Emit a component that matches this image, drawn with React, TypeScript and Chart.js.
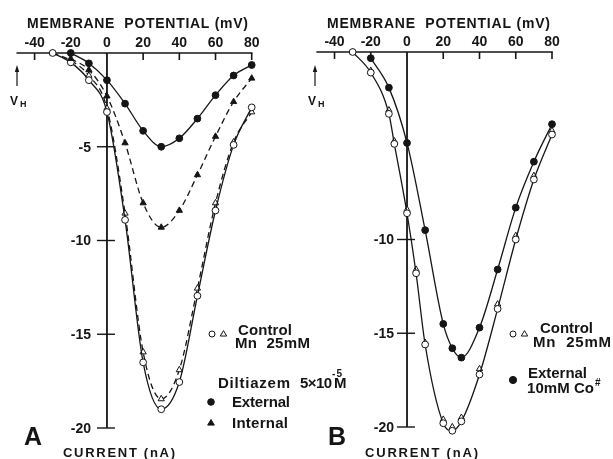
import { useEffect, useRef } from "react";
import { Chart, registerables } from "chart.js";
Chart.register(...registerables);

const W = 613;
const H = 459;
const FONT = "'Liberation Sans', Arial, Helvetica, sans-serif";
const INK = "#151515";

// ---- axis ticks ----
const xTickValues = [-40, -20, 0, 20, 40, 60, 80];
const xTickLabels = ["-40", "-20", "0", "20", "40", "60", "80"];
const yTickValuesA = [-5, -10, -15, -20];
const yTickLabelsA = ["-5", "-10", "-15", "-20"];
const yTickValuesB = [-10, -15, -20];
const yTickLabelsB = ["-10", "-15", "-20"];

// ---- Panel A data (membrane potential mV, current nA) ----
const aControlX = [-30, -20, -10, 0, 10, 20, 30, 40, 50, 60, 70, 80];
const aControlCircleY = [0, -0.5, -1.45, -3.15, -8.9, -16.5, -19.0, -17.55, -12.95, -8.4, -4.9, -2.9];
const aControlTriangleY = [0, -0.4, -1.2, -2.95, -8.55, -15.95, -18.45, -16.9, -12.55, -8.0, -4.75, -3.15];
const aDiltX = [-20, -10, 0, 10, 20, 30, 40, 50, 60, 70, 80];
const aExternalY = [0, -0.55, -1.45, -2.7, -4.15, -5.0, -4.55, -3.5, -2.25, -1.2, -0.64];
const aInternalY = [-0.3, -0.9, -2.3, -4.8, -8.0, -9.3, -8.4, -6.5, -4.45, -2.6, -1.35];

// ---- Panel B data ----
const bControlX = [-30, -20, -10, -7, 0, 5, 10, 20, 25, 30, 40, 50, 60, 70, 80];
const bControlCircleY = [0, -1.1, -3.3, -4.9, -8.6, -11.8, -15.6, -19.8, -20.2, -19.7, -17.2, -13.7, -10.0, -6.8, -4.4];
const bControlTriangleY = [0, -1.0, -3.1, -4.75, -8.4, -11.6, -15.5, -19.6, -20.0, -19.5, -16.9, -13.45, -9.8, -6.6, -4.2];
const bCobaltX = [-20, -10, 0, 10, 20, 25, 30, 40, 50, 60, 70, 80];
const bCobaltY = [-0.33, -1.9, -4.85, -9.5, -14.5, -15.8, -16.3, -14.7, -11.6, -8.3, -5.85, -3.85];

const pts = (xs: number[], ys: number[]) => xs.map((x, i) => ({ x, y: ys[i] }));

function fitText(ctx: CanvasRenderingContext2D, text: string, x: number, y: number, width: number, font: string) {
  ctx.font = font;
  const chars = Array.from(text);
  const widths = chars.map((c) => ctx.measureText(c).width);
  const total = widths.reduce((a, b) => a + b, 0);
  const gap = chars.length > 1 ? (width - total) / (chars.length - 1) : 0;
  let cx = x;
  ctx.textAlign = "left";
  ctx.textBaseline = "alphabetic";
  chars.forEach((c, i) => {
    ctx.fillText(c, cx, y);
    cx += widths[i] + gap;
  });
}

function marker(ctx: CanvasRenderingContext2D, kind: "circle" | "triangle", x: number, y: number, r: number, filled: boolean) {
  ctx.beginPath();
  if (kind === "circle") {
    ctx.arc(x, y, r, 0, Math.PI * 2);
  } else {
    ctx.moveTo(x, y - r);
    ctx.lineTo(x - r * 0.95, y + r * 0.6);
    ctx.lineTo(x + r * 0.95, y + r * 0.6);
    ctx.closePath();
  }
  ctx.fillStyle = filled ? INK : "#fff";
  ctx.fill();
  ctx.lineWidth = 1;
  ctx.strokeStyle = INK;
  ctx.stroke();
}

function line(ctx: CanvasRenderingContext2D, x1: number, y1: number, x2: number, y2: number) {
  ctx.beginPath();
  ctx.moveTo(x1, y1);
  ctx.lineTo(x2, y2);
  ctx.stroke();
}

type PanelCfg = {
  yTicks: number[];
  yLabels: string[];
  yLabelGap: number;
  title: [number, number];
  arrowX: number;
  vX: number;
  letter: string;
  letterX: number;
  current: [number, number];
  legend: (ctx: CanvasRenderingContext2D) => void;
};

function decor(cfg: PanelCfg) {
  return {
    id: "decor",
    beforeDatasetsDraw(chart: any) {
      const ctx: CanvasRenderingContext2D = chart.ctx;
      const xs = chart.scales.x;
      const ys = chart.scales.y;
      const x0 = xs.getPixelForValue(0);
      const y0 = ys.getPixelForValue(0);
      ctx.save();
      ctx.strokeStyle = INK;
      ctx.lineWidth = 1.6;
      line(ctx, xs.getPixelForValue(-50), y0, xs.getPixelForValue(80) + 0.8, y0);
      xTickValues.forEach((v) => {
        if (v === 0) return;
        const px = xs.getPixelForValue(v);
        line(ctx, px, y0, px, y0 + 7);
      });
      ctx.lineWidth = 1.8;
      line(ctx, x0, y0, x0, ys.getPixelForValue(-20));
      ctx.lineWidth = 1.4;
      cfg.yTicks.forEach((v) => {
        const py = ys.getPixelForValue(v);
        line(ctx, x0 - 10, py, x0 + 8, py);
      });
      ctx.restore();
    },
    afterDatasetsDraw(chart: any) {
      const ctx: CanvasRenderingContext2D = chart.ctx;
      const xs = chart.scales.x;
      const ys = chart.scales.y;
      const x0 = xs.getPixelForValue(0);
      const y0 = ys.getPixelForValue(0);
      ctx.save();
      ctx.fillStyle = INK;
      // title
      fitText(ctx, "MEMBRANE  POTENTIAL (mV)", cfg.title[0], 28, cfg.title[1] - cfg.title[0], `bold 14px ${FONT}`);
      // x tick labels
      ctx.font = `bold 14px ${FONT}`;
      ctx.textAlign = "center";
      ctx.textBaseline = "alphabetic";
      xTickValues.forEach((v, i) => {
        ctx.fillText(xTickLabels[i], xs.getPixelForValue(v), y0 - 6);
      });
      // y tick labels
      ctx.textAlign = "right";
      ctx.textBaseline = "middle";
      cfg.yTicks.forEach((v, i) => {
        ctx.fillText(cfg.yLabels[i], x0 - cfg.yLabelGap, ys.getPixelForValue(v) + 1);
      });
      // V_H arrow
      ctx.strokeStyle = INK;
      ctx.lineWidth = 1.2;
      line(ctx, cfg.arrowX, 86, cfg.arrowX, 70);
      ctx.beginPath();
      ctx.moveTo(cfg.arrowX, 65);
      ctx.lineTo(cfg.arrowX - 2.2, 72);
      ctx.lineTo(cfg.arrowX + 2.2, 72);
      ctx.closePath();
      ctx.fill();
      ctx.textAlign = "left";
      ctx.textBaseline = "alphabetic";
      ctx.font = `bold 12px ${FONT}`;
      ctx.fillText("V", cfg.vX, 105);
      ctx.font = `bold 9px ${FONT}`;
      ctx.fillText("H", cfg.vX + 10, 107);
      // panel letter + y title
      ctx.font = `bold 25px ${FONT}`;
      ctx.fillText(cfg.letter, cfg.letterX, 445);
      fitText(ctx, "CURRENT (nA)", cfg.current[0], 457, cfg.current[1] - cfg.current[0], `bold 13px ${FONT}`);
      cfg.legend(ctx);
      ctx.restore();
    },
  };
}

const legendA = (ctx: CanvasRenderingContext2D) => {
  marker(ctx, "circle", 212, 334, 3, false);
  marker(ctx, "triangle", 223.5, 334, 3.4, false);
  ctx.fillStyle = INK;
  const f = `bold 15px ${FONT}`;
  fitText(ctx, "Control", 238, 335, 54, f);
  fitText(ctx, "Mn  25mM", 235, 348, 75, f);
  fitText(ctx, "Diltiazem", 218, 388, 72, f);
  fitText(ctx, "5×10", 300, 388, 32, f);
  fitText(ctx, "M", 334, 388, 15, f);
  fitText(ctx, "-5", 332, 377, 10, `bold 10px ${FONT}`);
  marker(ctx, "circle", 211, 402, 3.3, true);
  fitText(ctx, "External", 232, 407, 58, f);
  marker(ctx, "triangle", 211, 423, 3.5, true);
  fitText(ctx, "Internal", 232, 428, 56, f);
};

const legendB = (ctx: CanvasRenderingContext2D) => {
  marker(ctx, "circle", 513, 334, 3, false);
  marker(ctx, "triangle", 524.5, 334, 3.4, false);
  ctx.fillStyle = INK;
  const f = `bold 15px ${FONT}`;
  fitText(ctx, "Control", 540, 333, 53, f);
  fitText(ctx, "Mn  25mM", 533, 347, 78, f);
  marker(ctx, "circle", 513, 380, 3.6, true);
  fitText(ctx, "External", 528, 378, 59, f);
  fitText(ctx, "10mM Co", 527, 393, 67, f);
  fitText(ctx, "#", 595, 386, 7, `bold 10px ${FONT}`);
};

const lineDs = (data: any[], style: "circle" | "triangle", filled: boolean, dashed: boolean, show: boolean) => ({
  data,
  showLine: show,
  borderColor: INK,
  borderWidth: 1.3,
  borderDash: dashed ? [6, 4] : [],
  cubicInterpolationMode: "monotone" as const,
  pointStyle: style,
  pointRadius: style === "circle" ? 3.4 : 3.6,
  pointBorderWidth: 1,
  pointBorderColor: INK,
  pointBackgroundColor: filled ? INK : "#fff",
  clip: false as any,
});

function makeConfig(datasets: any[], pad: { left: number; right: number; top: number; bottom: number }, cfg: PanelCfg): any {
  return {
    type: "scatter",
    data: { datasets },
    options: {
      responsive: false,
      animation: false,
      devicePixelRatio: 1,
      events: [],
      layout: { padding: pad },
      plugins: { legend: { display: false }, tooltip: { enabled: false } },
      scales: {
        x: { type: "linear", min: -50, max: 80, display: false },
        y: { type: "linear", min: -20, max: 0, display: false },
      },
    },
    plugins: [decor(cfg)],
  };
}

export default function App() {
  const refA = useRef<HTMLCanvasElement>(null);
  const refB = useRef<HTMLCanvasElement>(null);
  useEffect(() => {
    const cfgA: PanelCfg = {
      yTicks: yTickValuesA,
      yLabels: yTickLabelsA,
      yLabelGap: 16,
      title: [27, 248],
      arrowX: 17,
      vX: 10,
      letter: "A",
      letterX: 24,
      current: [63, 175],
      legend: legendA,
    };
    const cfgB: PanelCfg = {
      yTicks: yTickValuesB,
      yLabels: yTickLabelsB,
      yLabelGap: 13,
      title: [327, 550],
      arrowX: 315,
      vX: 308,
      letter: "B",
      letterX: 328,
      current: [365, 478],
      legend: legendB,
    };
    const dsA = [
      lineDs(pts(aDiltX, aExternalY), "circle", true, false, true),
      lineDs(pts(aDiltX, aInternalY), "triangle", true, true, true),
      lineDs(pts(aControlX, aControlCircleY), "circle", false, false, true),
      lineDs(pts(aControlX, aControlTriangleY), "triangle", false, true, true),
    ];
    const dsB = [
      lineDs(pts(bCobaltX, bCobaltY), "circle", true, false, true),
      lineDs(pts(bControlX, bControlCircleY), "circle", false, false, true),
      lineDs(pts(bControlX, bControlTriangleY), "triangle", false, false, false),
    ];
    const a = new Chart(refA.current!, makeConfig(dsA, { left: 16.5, right: W - 251.7, top: 53, bottom: H - 428 }, cfgA));
    const b = new Chart(refB.current!, makeConfig(dsB, { left: 316.4, right: W - 552, top: 52, bottom: H - 427 }, cfgB));
    return () => {
      a.destroy();
      b.destroy();
    };
  }, []);
  const cs: any = { position: "absolute", left: 0, top: 0, width: W, height: H };
  return (
    <div style={{ position: "fixed", left: 0, top: 0, width: W, height: H, background: "#fff" }}>
      <canvas ref={refA} width={W} height={H} style={cs} />
      <canvas ref={refB} width={W} height={H} style={cs} />
    </div>
  );
}
